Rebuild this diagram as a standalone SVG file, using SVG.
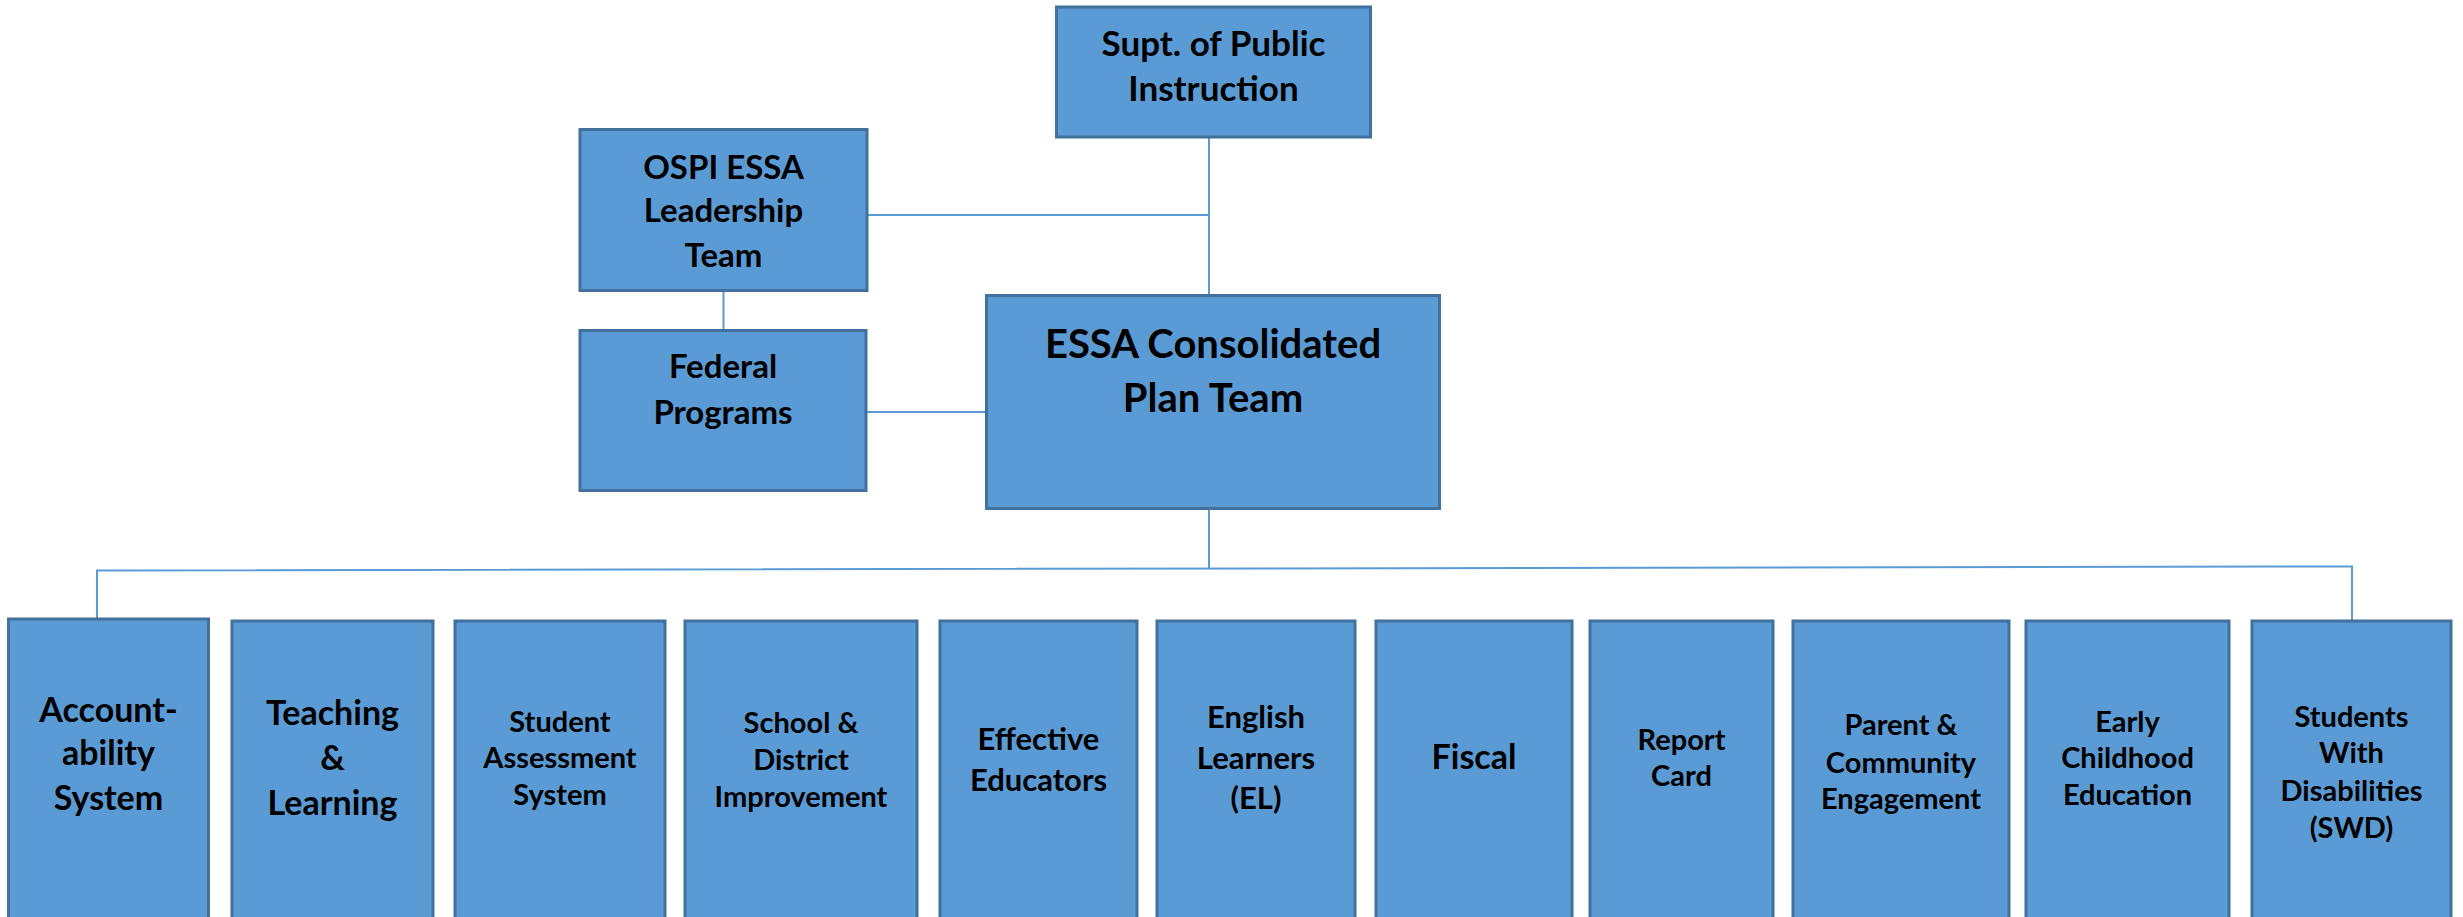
<svg xmlns="http://www.w3.org/2000/svg" width="2463" height="917" viewBox="0 0 2463 917">
<style>
.box{fill:#5B9BD5;stroke:#41719C;stroke-width:3}
.ln{stroke:#5B9BD5;stroke-width:2;fill:none}
text{font-family:Lato,"Open Sans","Liberation Sans",sans-serif;font-weight:bold;fill:#000;text-anchor:middle}
.t35{font-size:35px}.t33{font-size:33px}.t40{font-size:40px}.t34{font-size:34px}.t31{font-size:31px}.t29{font-size:29px}
</style>
<rect width="2463" height="917" fill="#fff"/>
<g id="connectors">
<line class="ln" x1="1209" y1="137" x2="1209" y2="295"/>
<line class="ln" x1="867" y1="215" x2="1209" y2="215"/>
<line class="ln" x1="723.5" y1="292" x2="723.5" y2="330"/>
<line class="ln" x1="866" y1="412" x2="986" y2="412"/>
<line class="ln" x1="1209" y1="509" x2="1209" y2="568.5"/>
<polyline class="ln" points="97,620 97,570.5 2352,566.5 2352,621"/>
</g>
<g id="supt"><rect class="box" x="1056.5" y="7" width="314" height="130"/>
<text class="t35"><tspan x="1213.5" y="56">Supt. of Public</tspan><tspan x="1213.5" y="100.5">Instruction</tspan></text></g>
<g id="ospi"><rect class="box" x="580" y="129.5" width="287" height="161"/>
<text class="t33"><tspan x="723.5" y="178.5">OSPI ESSA</tspan><tspan x="723.5" y="222">Leadership</tspan><tspan x="723.5" y="266.5">Team</tspan></text></g>
<g id="federal"><rect class="box" x="580" y="330.5" width="286" height="160"/>
<text class="t33"><tspan x="723" y="378">Federal</tspan><tspan x="723" y="423.5">Programs</tspan></text></g>
<g id="essa"><rect class="box" x="986.5" y="295.5" width="453" height="213"/>
<text class="t40"><tspan x="1213" y="358">ESSA Consolidated</tspan><tspan x="1213" y="412">Plan Team</tspan></text></g>
<g id="accountability"><rect class="box" x="8.5" y="619" width="200" height="320"/>
<text class="t34"><tspan x="108.5" y="722">Account-</tspan><tspan x="108.5" y="765">ability</tspan><tspan x="108.5" y="810">System</tspan></text></g>
<g id="teaching"><rect class="box" x="232" y="621" width="201" height="320"/>
<text class="t34"><tspan x="332.5" y="725">Teaching</tspan><tspan x="332.5" y="770">&amp;</tspan><tspan x="332.5" y="815">Learning</tspan></text></g>
<g id="assessment"><rect class="box" x="455" y="621" width="210" height="320"/>
<text class="t29"><tspan x="560" y="732">Student</tspan><tspan x="560" y="768">Assessment</tspan><tspan x="560" y="805">System</tspan></text></g>
<g id="improvement"><rect class="box" x="685" y="621" width="232" height="320"/>
<text class="t29"><tspan x="801" y="733">School &amp;</tspan><tspan x="801" y="770">District</tspan><tspan x="801" y="807">Improvement</tspan></text></g>
<g id="educators"><rect class="box" x="940" y="621" width="197" height="320"/>
<text class="t31"><tspan x="1038.5" y="750">Effective</tspan><tspan x="1038.5" y="791">Educators</tspan></text></g>
<g id="english"><rect class="box" x="1157" y="621" width="198" height="320"/>
<text class="t31"><tspan x="1256" y="728">English</tspan><tspan x="1256" y="769">Learners</tspan><tspan x="1256" y="809">(EL)</tspan></text></g>
<g id="fiscal"><rect class="box" x="1376" y="621" width="196" height="320"/>
<text class="t34"><tspan x="1474" y="769">Fiscal</tspan></text></g>
<g id="reportcard"><rect class="box" x="1590" y="621" width="183" height="320"/>
<text class="t29"><tspan x="1681.5" y="750">Report</tspan><tspan x="1681.5" y="786">Card</tspan></text></g>
<g id="parent"><rect class="box" x="1793" y="621" width="216" height="320"/>
<text class="t29"><tspan x="1901" y="735">Parent &amp;</tspan><tspan x="1901" y="773">Community</tspan><tspan x="1901" y="809">Engagement</tspan></text></g>
<g id="earlychildhood"><rect class="box" x="2026" y="621" width="203" height="320"/>
<text class="t29"><tspan x="2127.5" y="732">Early</tspan><tspan x="2127.5" y="768">Childhood</tspan><tspan x="2127.5" y="805">Education</tspan></text></g>
<g id="swd"><rect class="box" x="2252" y="621" width="199" height="320"/>
<text class="t29"><tspan x="2351.5" y="727">Students</tspan><tspan x="2351.5" y="763">With</tspan><tspan x="2351.5" y="801">Disabilities</tspan><tspan x="2351.5" y="838">(SWD)</tspan></text></g>
</svg>
